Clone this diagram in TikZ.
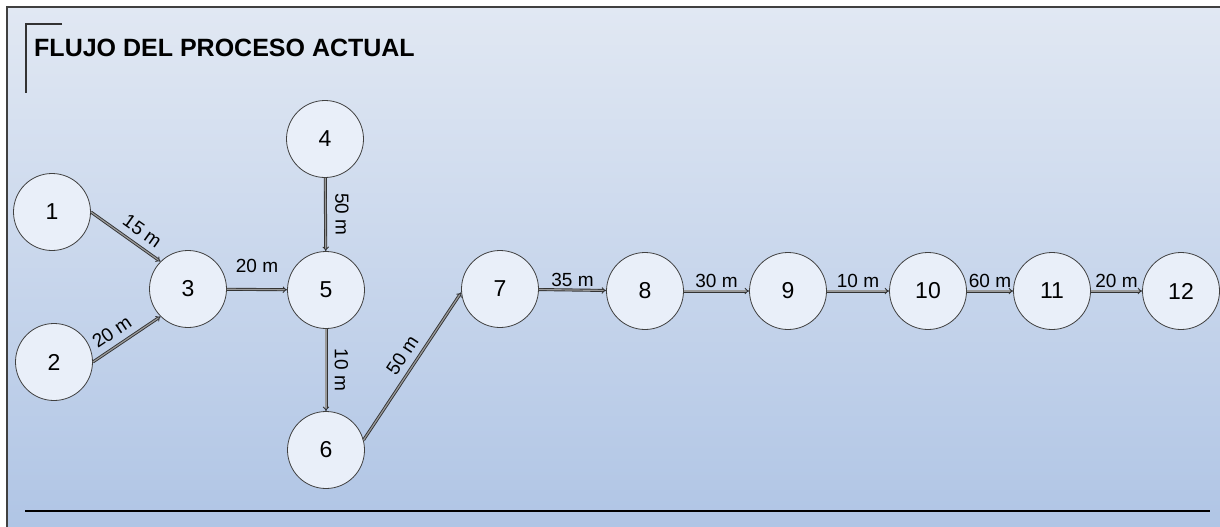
\documentclass[tikz,border=0pt]{standalone}
\usepackage{fontspec}
\setmainfont{Liberation Sans}
\usetikzlibrary{arrows.meta}
\definecolor{bgtop}{RGB}{225,232,243}
\definecolor{bgbot}{RGB}{176,197,229}
\definecolor{nodefill}{RGB}{233,239,249}
\begin{document}
\begin{tikzpicture}[x=1pt,y=-1pt,
  stnode/.style={circle, draw=black!75, line width=0.8pt, fill=nodefill,
    minimum size=77pt, inner sep=0pt, font=\fontsize{23}{23}\selectfont},
  flow/.style={draw=black!80, line width=0.9pt, double=black!40,
    double distance=1.2pt, -{Implies[scale=1.2]}},
  lbl/.style={font=\fontsize{19}{19}\selectfont}]
\useasboundingbox (0,0) rectangle (1220,527);
\fill[white] (0,0) rectangle (1220,527);
\shade[top color=bgtop, bottom color=bgbot] (7,7) rectangle (1220,527);
\draw[black!75, line width=1.5pt] (7,527) -- (7,7) -- (1220,7);
% title and bracket
\node[anchor=west, inner sep=0pt, font=\bfseries\fontsize{25}{25}\selectfont] (title) at (34,48) {FLUJO DEL PROCESO ACTUAL};
\draw[black!80, line width=1.3pt] (62,24) -- (26,24) -- (26,93);
\draw[black, line width=1.8pt] (25,511) -- (1210,511);
% nodes
\node[stnode] (n1) at (52,212) {1};
\node[stnode] (n2) at (54,362) {2};
\node[stnode] (n3) at (188,289) {3};
\node[stnode] (n4) at (325,139) {4};
\node[stnode] (n5) at (326,290) {5};
\node[stnode] (n6) at (326,450) {6};
\node[stnode] (n7) at (500,289) {7};
\node[stnode] (n8) at (645,291) {8};
\node[stnode] (n9) at (788,291) {9};
\node[stnode] (n10) at (928,291) {10};
\node[stnode] (n11) at (1052,291) {11};
\node[stnode] (n12) at (1181,291) {12};
% connectors
\draw[flow] (n1.east) -- node[lbl, pos=0.62, above=4pt, sloped] {15 m} (n3.135);
\draw[flow] (n2.east) -- node[lbl, pos=0.4, above=4pt, sloped] {20 m} (n3.225);
\draw[flow] (n3) -- node[lbl, above=13pt] {20 m} (n5);
\draw[flow] (n4) -- node[lbl, midway, sloped, allow upside down, above=6pt] {50 m} (n5);
\draw[flow] (n5) -- node[lbl, midway, sloped, allow upside down, above=5pt] {10 m} (n6);
\draw[flow] (n6.15) -- node[lbl, pos=0.52, above=4pt, sloped] {50 m} (n7.185);
\draw[flow] (n7) -- node[lbl, above] {35 m} (n8);
\draw[flow] (n8) -- node[lbl, above] {30 m} (n9);
\draw[flow] (n9) -- node[lbl, above] {10 m} (n10);
\draw[flow] (n10) -- node[lbl, above] {60 m} (n11);
\draw[flow] (n11) -- node[lbl, above] {20 m} (n12);
\end{tikzpicture}
\end{document}
